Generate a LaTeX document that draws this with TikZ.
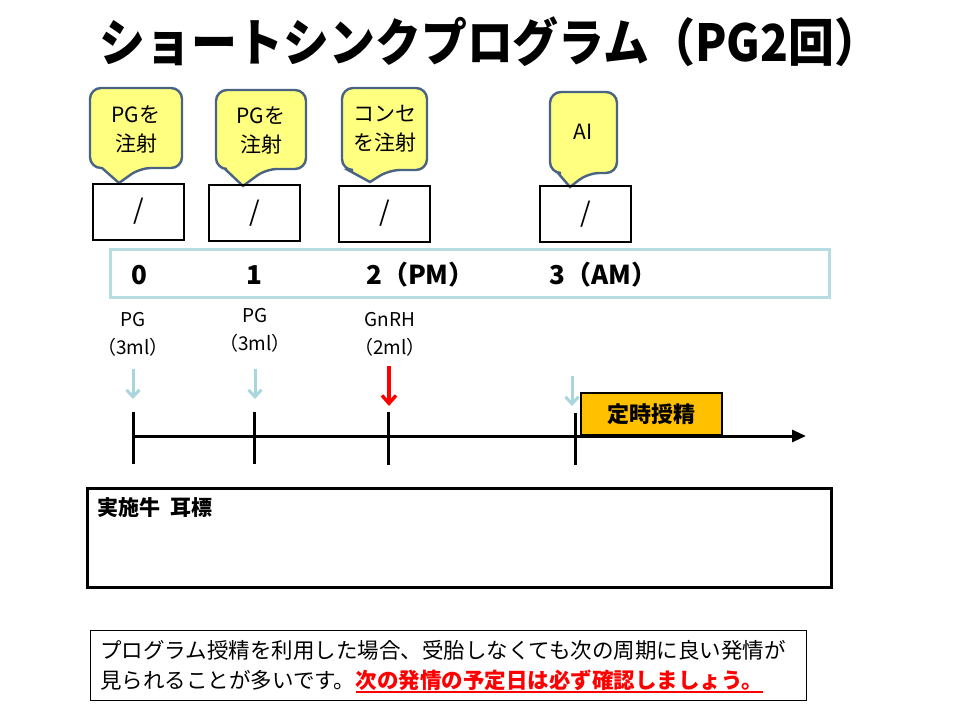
\documentclass[tikz,border=0pt]{standalone}
\usepackage{fontspec}
\setmainfont{Noto Sans CJK JP}
\usetikzlibrary{arrows.meta}
\definecolor{cyellow}{HTML}{FFFF80}
\definecolor{cborder}{HTML}{4A6382}
\definecolor{lbluebox}{HTML}{B7DDE3}
\definecolor{lbluearr}{HTML}{A9D5DD}
\definecolor{orangec}{HTML}{FFC000}
\newcommand\balloon[8]{%
  \draw[balloonstyle] ({(#1+#3)/2},#2) [rounded corners=11pt] -- (#3,#2) -- (#3,#4) -- (#6,#4) [sharp corners] -- (#7,#8) -- (#5,#4) [rounded corners=11pt] -- (#1,#4) -- (#1,#2) -- cycle;}
\begin{document}
\begin{tikzpicture}[x=1pt,y=-1pt,
  balloonstyle/.style={draw=cborder,line width=2.4pt,fill=cyellow},
  baltext/.style={font=\fontsize{21}{29}\selectfont,align=center,inner sep=0pt},
  datebox/.style={draw=black,line width=2pt,minimum width=91pt,minimum height=56pt,inner sep=0pt,font=\fontsize{27}{27}\selectfont},
  daynum/.style={font=\bfseries\fontsize{26}{26}\selectfont,inner sep=0pt},
  druglbl/.style={font=\fontsize{19}{28}\selectfont,align=center,inner sep=0pt},
  lbarrow/.style={draw=lbluearr,line width=3pt,-{Straight Barb[length=7pt,width=13pt,line width=3pt]}},
  redarrow/.style={draw=red,line width=3.4pt,-{Straight Barb[length=8pt,width=14pt,line width=3.4pt]}},
  tick/.style={draw=black,line width=3pt},
]
\useasboundingbox[fill=white] (0,0) rectangle (960,720);

% title
\node[font=\bfseries\fontsize{51}{51}\selectfont,inner sep=0pt] (title) at (490,42) {\scalebox{0.9}[1]{ショートシンクプログラム（PG2回）}};

% balloons
\balloon{90}{88}{182}{168}{102}{140}{119}{183}
\balloon{216}{90}{306}{169}{225}{266}{243}{186}
\balloon{342}{88}{427}{170}{348}{389}{370}{182}
\balloon{550}{92}{617}{173}{558}{588}{570}{187}
\node[baltext] (c1) at (136,129) {PGを\\注射};
\node[baltext] (c2) at (261,130) {PGを\\注射};
\node[baltext] (c3) at (385,129) {コンセ\\を注射};
\node[baltext] (c4) at (583,132) {AI};

% date boxes
\node[datebox] (b1) at (138.5,211.5) {/};
\node[datebox] (b2) at (254.5,213) {/};
\node[datebox] (b3) at (384.5,213.5) {/};
\node[datebox] (b4) at (585.5,214) {/};

% day row
\node[draw=lbluebox,line width=3pt,minimum width=719pt,minimum height=48pt,inner sep=0pt] (dayrow) at (469.5,273) {};
\node[daynum] (d0) at (139,275) {0};
\node[daynum] (d1) at (254,275) {1};
\node[daynum,anchor=west] (d2) at (366,275) {2（PM）};
\node[daynum,anchor=west] (d3) at (549,275) {3（AM）};

% drug labels
\node[druglbl] (g0) at (133,334) {PG\\（3ml）};
\node[druglbl] (g1) at (255,330) {PG\\（3ml）};
\node[druglbl] (g2) at (390,334) {GnRH\\（2ml）};

% arrows
\coordinate (a0s) at (133,369); \coordinate (a0e) at (133,399);
\coordinate (a1s) at (255,369); \coordinate (a1e) at (255,399);
\coordinate (a2s) at (389,366); \coordinate (a2e) at (389,406);
\coordinate (a3s) at (572,376); \coordinate (a3e) at (572,406);
\draw[lbarrow] (a0s) -- (a0e);
\draw[lbarrow] (a1s) -- (a1e);
\draw[redarrow] (a2s) -- (a2e);
\draw[lbarrow] (a3s) -- (a3e);

% timeline
\coordinate (tstart) at (133,436);
\coordinate (tend) at (806,436);
\draw[line width=3pt,-{Triangle[length=14pt,width=12pt]}] (tstart) -- (tend);
\coordinate (t0a) at (133,412); \coordinate (t0b) at (133,464);
\coordinate (t1a) at (254,412); \coordinate (t1b) at (254,464);
\coordinate (t2a) at (388,412); \coordinate (t2b) at (388,465);
\coordinate (t3a) at (575,413); \coordinate (t3b) at (575,465);
\draw[tick] (t0a) -- (t0b);
\draw[tick] (t1a) -- (t1b);
\draw[tick] (t2a) -- (t2b);
\draw[tick] (t3a) -- (t3b);

% timed AI box
\node[draw=black,line width=2pt,fill=orangec,minimum width=141pt,minimum height=42pt,inner sep=0pt,font=\bfseries\fontsize{22}{22}\selectfont] (tai) at (651.5,414) {定時授精};

% record box
\node[draw=black,line width=3pt,minimum width=744pt,minimum height=99pt,inner sep=0pt] (rec) at (459,537.5) {};
\node[anchor=north west,inner sep=0pt,font=\bfseries\fontsize{21}{21}\selectfont] (rectext) at (97,497) {実施牛\hspace{0.5em}耳標};

% note box
\node[draw=black,line width=1pt,minimum width=716pt,minimum height=70pt,inner sep=0pt] (note) at (448,665) {};
\node[anchor=base west,inner sep=0pt,font=\fontsize{21.5}{21.5}\selectfont] (n1) at (100,658) {プログラム授精を利用した場合、受胎しなくても次の周期に良い発情が};
\node[anchor=base west,inner sep=0pt,font=\fontsize{21.5}{21.5}\selectfont] (n2) at (100,688) {見られることが多いです。};
\node[anchor=base west,inner sep=0pt,text=red,font=\bfseries\fontsize{21.5}{21.5}\selectfont] (n3) at (n2.base east) {次の発情の予定日は必ず確認しましょう。};
\draw[red,line width=2pt] ([yshift=-4pt]n3.base west) -- ([yshift=-4pt]n3.base east);
\end{tikzpicture}
\end{document}
